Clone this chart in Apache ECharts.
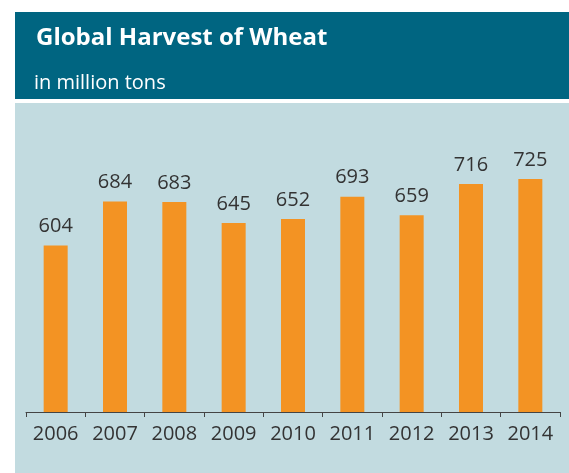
<!DOCTYPE html>
<html>
<head>
<meta charset="utf-8">
<script src="https://cdn.jsdelivr.net/npm/echarts@6/dist/echarts.min.js"></script>
<style>
html,body{margin:0;padding:0;background:#fff;}
#chart{width:569px;height:473px;}
</style>
</head>
<body>
<div id="chart"></div>
<script>
var years = ['2006','2007','2008','2009','2010','2011','2012','2013','2014'];
var harvest = [604, 684, 683, 645, 652, 693, 659, 716, 725];
var titleText = 'Global Harvest of Wheat';
var subtitleText = 'in million tons';

var chart = echarts.init(document.getElementById('chart'), null, {renderer:'canvas'});
var FONT = '"Open Sans", "Noto Sans", sans-serif';
chart.setOption({
  animation: false,
  backgroundColor: '#ffffff',
  graphic: [
    {type:'rect', z:-10, shape:{x:15, y:12, width:554, height:87}, style:{fill:'#006581'}},
    {type:'rect', z:-10, shape:{x:15, y:103, width:554, height:370}, style:{fill:'#C2DBE0'}}
  ],
  title: [
    {text: titleText, left: 36, top: 26, padding: 0,
     textStyle:{color:'#ffffff', fontSize:24, fontWeight:'bold', fontFamily:FONT}},
    {text: subtitleText, left: 34, top: 73, padding: 0,
     textStyle:{color:'#ffffff', fontSize:20, fontWeight:'normal', fontFamily:FONT}}
  ],
  grid: {left: 26, right: 9, top: 138, bottom: 61, containLabel:false},
  xAxis: {
    type:'category', data: years, boundaryGap:true,
    axisLine:{show:true, lineStyle:{color:'#444', width:1}},
    axisTick:{show:true, length:5, interval:0, lineStyle:{color:'#444'}},
    axisLabel:{color:'#333', fontSize:20, fontFamily:FONT, margin:12, interval:0, hideOverlap:false}
  },
  yAxis: {
    type:'value', min:300, max:800, show:false,
    splitLine:{show:false}
  },
  series: [{
    type:'bar', data: harvest, barWidth:24,
    itemStyle:{color:'#F39323'},
    label:{show:true, position:'top', distance:9, color:'#333', fontSize:20, fontFamily:FONT}
  }]
});
</script>
</body>
</html>
